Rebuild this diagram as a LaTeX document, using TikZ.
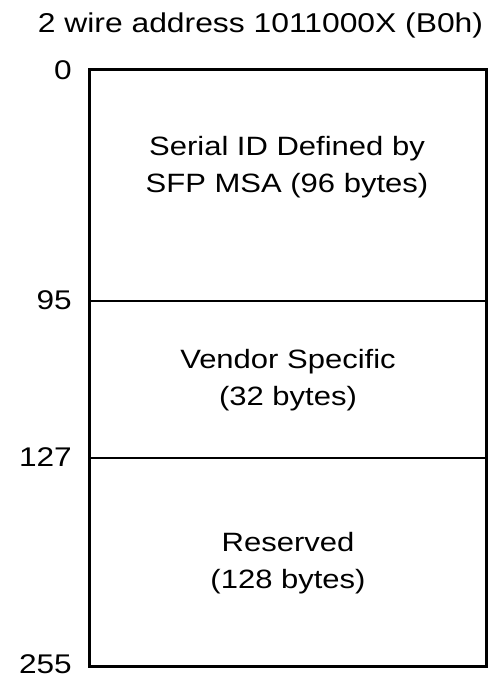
\documentclass[tikz,border=0pt]{standalone}
\usepackage{fontspec}
\setmainfont[FakeStretch=1.17]{Liberation Sans}
\begin{document}
\begin{tikzpicture}[x=1pt,y=-1pt,
  lbl/.style={anchor=base east,font=\fontsize{27}{30}\selectfont,inner sep=0pt},
  body/.style={anchor=base,font=\fontsize{26.5}{30}\selectfont,inner sep=0pt},
  outer/.style={line width=3pt},
  divider/.style={line width=2.5pt}]
\useasboundingbox (0,0) rectangle (488,679);
\node[font=\fontsize{27.2}{30}\selectfont,inner sep=0pt,anchor=base] (title) at (260.5,33) {2 wire address 1011000X (B0h)};
\coordinate (tl) at (89,70);
\coordinate (br) at (486.5,666);
\coordinate (l95) at (89,301);
\coordinate (r95) at (486.5,301);
\coordinate (l127) at (89,458);
\coordinate (r127) at (486.5,458);
\draw[outer] (tl) rectangle (br);
\draw[divider] (l95) -- (r95);
\draw[divider] (l127) -- (r127);
\node[lbl] (n0) at (72,80) {0};
\node[lbl] (n95) at (72,309) {95};
\node[lbl] (n127) at (72,466) {127};
\node[lbl] (n255) at (72,673) {255};
\node[body] (s1a) at (287,156) {Serial ID Defined by};
\node[body] (s1b) at (287,193) {SFP MSA (96 bytes)};
\node[body] (s2a) at (288,368) {Vendor Specific};
\node[body] (s2b) at (288,405) {(32 bytes)};
\node[body] (s3a) at (288,551) {Reserved};
\node[body] (s3b) at (288,588) {(128 bytes)};
\end{tikzpicture}
\end{document}
